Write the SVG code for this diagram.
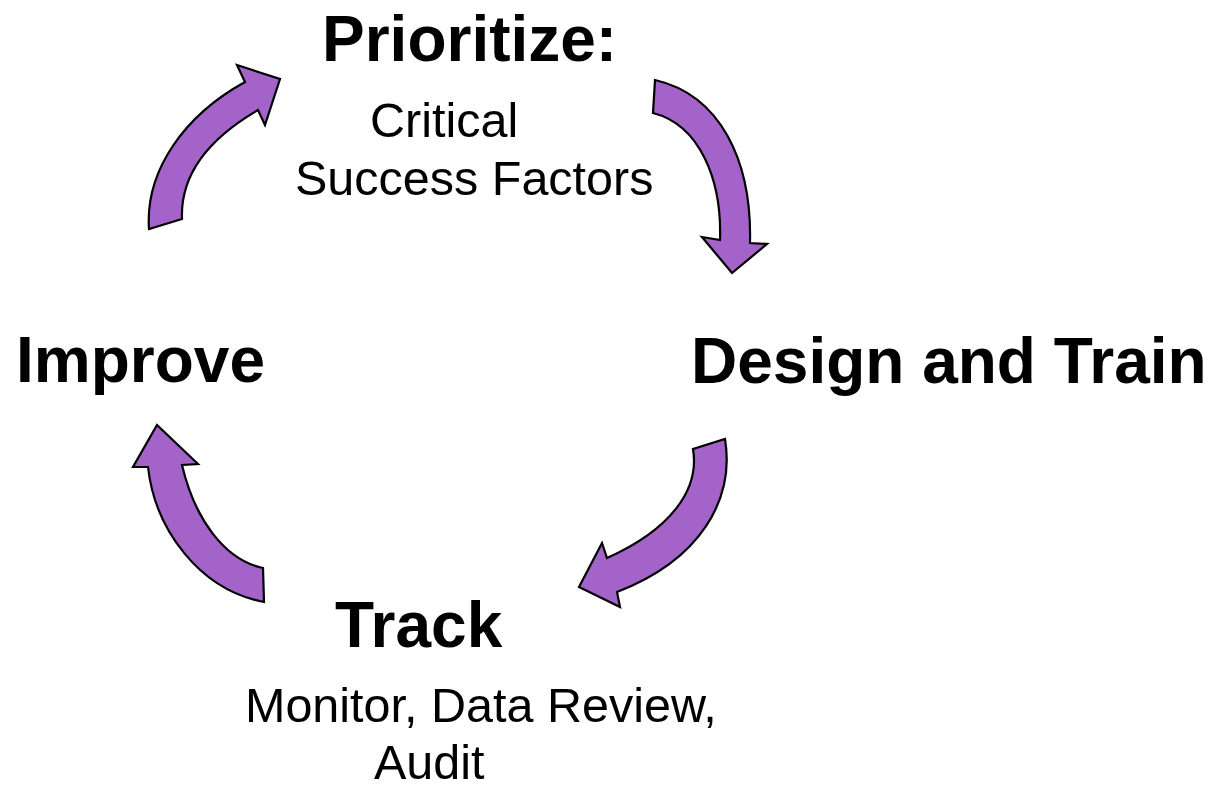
<svg xmlns="http://www.w3.org/2000/svg" width="1217" height="787" viewBox="0 0 1217 787">
  <style>
    .arrow { fill: #a463c9; stroke: #000; stroke-width: 2.2; stroke-linejoin: miter; }
    .head { font-family: "Liberation Sans", Arial, sans-serif; font-weight: bold; font-size: 64px; fill: #000; }
    .sub { font-family: "Liberation Sans", Arial, sans-serif; font-size: 48.5px; fill: #000; }
  </style>
  <rect width="1217" height="787" fill="#fff"/>

  <!-- curved cycle arrows -->
  <g id="connectors">
    <path class="arrow" d="M149,229 C145,170 185,115 245,82 L237,65 L280,79 L265,125 L258,110 C215,135 180,170 182,219 Z"/>
    <path class="arrow" d="M655,80 C720,95 752,160 750,243 L767,244 L732,273 L702,237 L720,240 C722,180 700,125 653,113 Z"/>
    <path class="arrow" d="M725,439 C735,500 700,560 617,592 L620,607 L579,587 L602,543 L607,558 C670,530 700,490 693,449 Z"/>
    <path class="arrow" d="M264,602 C200,590 155,530 148,467 L133,467 L157,425 L198,464 L182,465 C195,520 225,560 263,568 Z"/>
  </g>

  <g id="prioritize">
    <text class="head" x="322" y="61">Prioritize:</text>
    <text class="sub" x="370" y="137">Critical</text>
    <text class="sub" x="295" y="195">Success Factors</text>
  </g>

  <g id="design-train">
    <text class="head" x="691" y="383">Design and Train</text>
  </g>

  <g id="track">
    <text class="head" x="335" y="647">Track</text>
    <text class="sub" x="245" y="722">Monitor, Data Review,</text>
    <text class="sub" x="374" y="779">Audit</text>
  </g>

  <g id="improve">
    <text class="head" x="16" y="382">Improve</text>
  </g>
</svg>
